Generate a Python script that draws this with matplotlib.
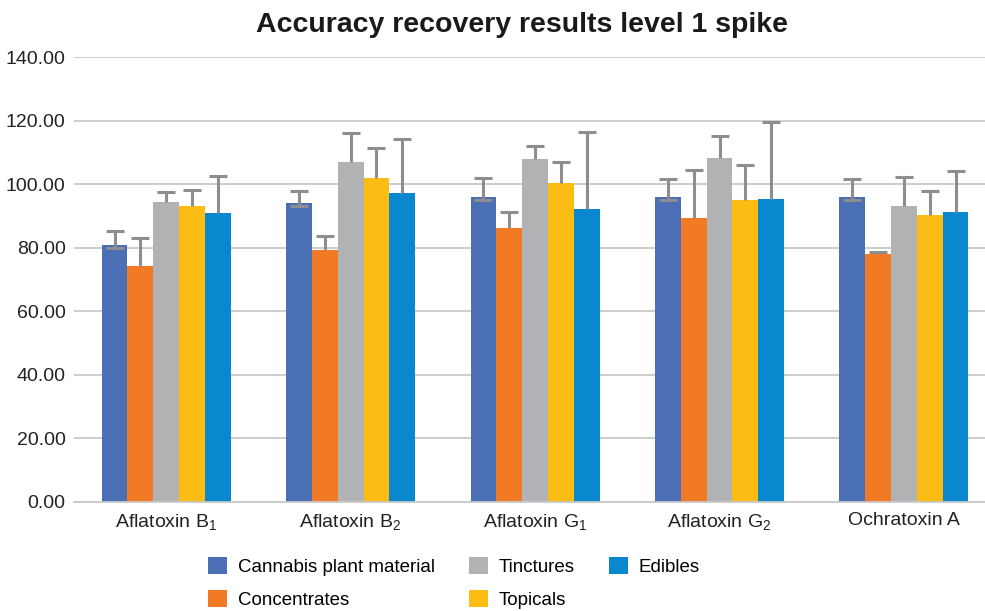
import matplotlib.pyplot as plt
import numpy as np
from matplotlib.ticker import FormatStrFormatter

plt.rcParams['font.family'] = ['Liberation Sans', 'DejaVu Sans']
plt.rcParams['mathtext.fontset'] = 'custom'
plt.rcParams['mathtext.rm'] = 'Liberation Sans'
plt.rcParams['mathtext.it'] = 'Liberation Sans'

categories = ["Aflatoxin B$_1$", "Aflatoxin B$_2$", "Aflatoxin G$_1$",
              "Aflatoxin G$_2$", "Ochratoxin A"]
series = ["Cannabis plant material", "Concentrates", "Tinctures", "Topicals", "Edibles"]
colors = ["#4A6FB5", "#F27A24", "#B1B2B4", "#FBBD13", "#0A88CF"]

# mean recovery per series (rows) and analyte (cols)
plant = [80.8, 94.0, 96.0, 96.0, 96.0]
concentrates = [74.1, 79.2, 86.3, 89.3, 78.1]
tinctures = [94.5, 106.9, 107.8, 108.1, 93.0]
topicals = [93.2, 102.0, 100.5, 95.0, 90.2]
edibles = [90.8, 97.3, 92.3, 95.4, 91.1]

# upper error
plant_err = [4.4, 3.7, 5.8, 5.6, 5.5]
concentrates_err = [8.9, 4.6, 4.9, 15.1, 0.6]
tinctures_err = [2.9, 9.2, 4.2, 7.2, 9.4]
topicals_err = [4.9, 9.4, 6.5, 11.0, 7.6]
edibles_err = [11.8, 17.0, 24.2, 24.1, 12.9]

values = [plant, concentrates, tinctures, topicals, edibles]
errors = [plant_err, concentrates_err, tinctures_err, topicals_err, edibles_err]
# only the first series shows a small lower whisker
plant_lower = [0.8, 0.9, 0.9, 0.9, 0.9]

fig = plt.figure(figsize=(9.85, 6.11), dpi=100)
ax = fig.add_axes([0.0751, 0.1784, 0.925, 0.7283])

ecol = '#8E8E90'
x = np.arange(len(categories))
width = 0.14
for i, (vals, err) in enumerate(zip(values, errors)):
    pos = x + (i - 2) * width
    vals = np.array(vals)
    err = np.array(err)
    ax.bar(pos, vals, width, color=colors[i], label=series[i], zorder=2)
    ax.vlines(pos, vals, vals + err, color=ecol, linewidth=2.2, zorder=3)
    ax.scatter(pos, vals + err, marker='_', s=150, linewidths=2.2,
               color=ecol, zorder=3)
    if i == 0:
        ax.vlines(pos, vals - np.array(plant_lower), vals, color=ecol,
                  linewidth=2.2, zorder=3)
        ax.scatter(pos, vals - np.array(plant_lower), marker='_', s=150,
                   linewidths=2.2, color=ecol, zorder=3)

ax.set_ylim(0, 140)
ax.set_yticks(np.arange(0, 141, 20))
ax.yaxis.set_major_formatter(FormatStrFormatter('%.2f'))
ax.set_xlim(-0.5, 4.44)
ax.set_xticks(x)
ax.set_xticklabels(categories)
ax.grid(axis='y', color='#C9C9C9', linewidth=1.3, zorder=0)
ax.set_axisbelow(True)
for s in ['top', 'right', 'left']:
    ax.spines[s].set_visible(False)
ax.spines['bottom'].set_color('#C9C9C9')
ax.spines['bottom'].set_linewidth(1.3)
ax.tick_params(axis='both', length=0, labelsize=14, colors='#222222')
ax.tick_params(axis='y', pad=6)
ax.tick_params(axis='x', pad=7)

fig.suptitle("Accuracy recovery results level 1 spike", fontsize=20.5,
             fontweight='bold', color='#1a1a1a', x=0.53, y=0.98)

fig.legend(loc='lower left', bbox_to_anchor=(0.202, -0.012), ncol=3,
           frameon=False, fontsize=13.5, handlelength=1.0, handleheight=1.0,
           columnspacing=1.8, labelspacing=0.75, handletextpad=0.6,
           borderpad=0.0)

fig.savefig("out.png", dpi=100)
